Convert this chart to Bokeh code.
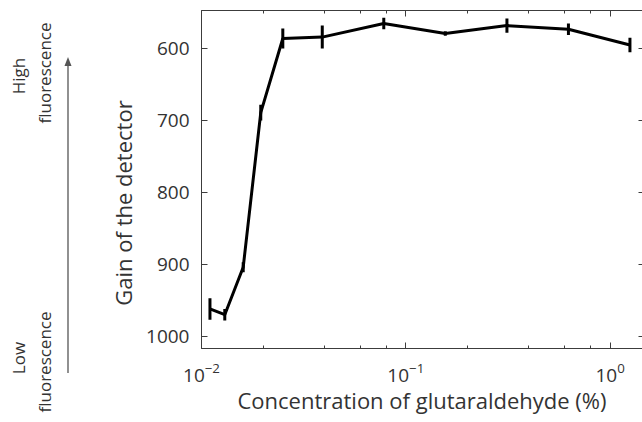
from bokeh.plotting import figure
from bokeh.layouts import row
from bokeh.models import (Range1d, FixedTicker, LogAxis, LinearAxis, Div,
                          ColumnDataSource, LogTicker, CustomJSTickFormatter)
from bokeh.embed import file_html
from bokeh.resources import INLINE

# ---- data ----
conc = [0.011, 0.013, 0.016, 0.0195, 0.025, 0.039, 0.078, 0.156, 0.3125, 0.625, 1.25]
gain = [962, 970, 904, 689, 586, 584, 565, 579, 568, 573, 595]
err = [15, 8, 7, 11, 14, 16, 8, 3, 10, 8, 10]
y_ticks = [600, 700, 800, 900, 1000]
x_label = "Concentration of glutaraldehyde (%)"
y_label = "Gain of the detector"
high_words = ["High", "fluorescence"]
low_words = ["Low", "fluorescence"]

FONT = "Open Sans"
TXT = "#333333"
AX = "#3c3c3c"
H = 420
LEFT_W = 141

# ---------------- left column: annotation + y title (HTML) ----------------
def vtext(txt, cx, cy, size):
    return (f'<div style="position:absolute;left:{cx}px;top:{cy}px;'
            f'transform:translate(-50%,-50%) rotate(-90deg);'
            f'white-space:nowrap;line-height:1;font-size:{size}px;">{txt}</div>')

items = [
    vtext(high_words[0], 17.5, 76, 17),
    vtext(high_words[1], 43.5, 72.5, 17),
    vtext(low_words[0], 17.5, 358, 17),
    vtext(low_words[1], 43.5, 361.5, 17),
    vtext(y_label, 123, 202.5, 22),
]
arrow_svg = (f'<svg width="{LEFT_W}" height="{H}" style="position:absolute;left:0;top:0;">'
             '<line x1="68" y1="373" x2="68" y2="64" stroke="#555555" stroke-width="1.3"/>'
             '<polygon points="68,57 64.5,66 71.5,66" fill="#555555"/></svg>')
html = (f'<div style="position:relative;width:{LEFT_W}px;height:{H}px;'
        f"font-family:'{FONT}';color:{TXT};\">" + arrow_svg + "".join(items) + "</div>")
left = Div(text=html, width=LEFT_W, height=H, margin=0)

# ---------------- main plot ----------------
p = figure(width=642 - LEFT_W, height=H, x_axis_type="log",
           x_range=Range1d(0.01, 1.44), y_range=Range1d(1017, 547),
           output_backend="svg", toolbar_location=None,
           min_border_left=201 - LEFT_W, min_border_right=0,
           min_border_top=10, min_border_bottom=H - 348)
p.outline_line_color = None
p.grid.visible = False

xt = LogTicker()
xa = p.xaxis[0]
xa.ticker = xt
xa.axis_line_color = AX
xa.major_tick_line_color = AX
xa.minor_tick_line_color = AX
xa.major_tick_in = 6
xa.major_tick_out = 0
xa.minor_tick_in = 3
xa.minor_tick_out = 0
xa.major_label_text_font = FONT
xa.major_label_text_font_size = "19px"
xa.major_label_text_color = TXT
xa.major_label_standoff = 14
xa.axis_label = x_label
xa.axis_label_text_font = FONT
xa.axis_label_text_font_size = "22px"
xa.axis_label_text_font_style = "normal"
xa.axis_label_text_color = TXT
xa.axis_label_standoff = 0

ya = p.yaxis[0]
ya.ticker = FixedTicker(ticks=y_ticks, minor_ticks=[])
ya.axis_line_color = AX
ya.major_tick_line_color = AX
ya.major_tick_in = 6
ya.major_tick_out = 0
ya.minor_tick_in = 0
ya.minor_tick_out = 0
ya.major_label_text_font = FONT
ya.major_label_text_font_size = "19px"
ya.major_label_text_color = TXT
ya.major_label_standoff = 12

top = LogAxis(ticker=xt, formatter=CustomJSTickFormatter(code="return ''"),
              axis_line_color=AX, major_tick_line_color=AX,
              minor_tick_line_color=AX, major_tick_in=6, major_tick_out=0,
              minor_tick_in=3, minor_tick_out=0,
              major_label_text_font_size="1px", major_label_standoff=0)
p.add_layout(top, "above")

right = LinearAxis(ticker=FixedTicker(ticks=y_ticks, minor_ticks=[]),
                   formatter=CustomJSTickFormatter(code="return ''"),
                   axis_line_color=None, major_tick_line_color=AX,
                   major_tick_in=4, major_tick_out=0, minor_tick_in=0,
                   minor_tick_out=0, major_label_text_font_size="1px",
                   major_label_standoff=0)
p.add_layout(right, "right")

src = ColumnDataSource(dict(
    x=conc, y=gain,
    lo=[g - e for g, e in zip(gain, err)],
    hi=[g + e for g, e in zip(gain, err)],
))
p.line("x", "y", source=src, line_color="black", line_width=3)
p.segment("x", "lo", "x", "hi", source=src, line_color="black", line_width=3)

layout = row(left, p)
open("out.html", "w").write(file_html(layout, INLINE))
